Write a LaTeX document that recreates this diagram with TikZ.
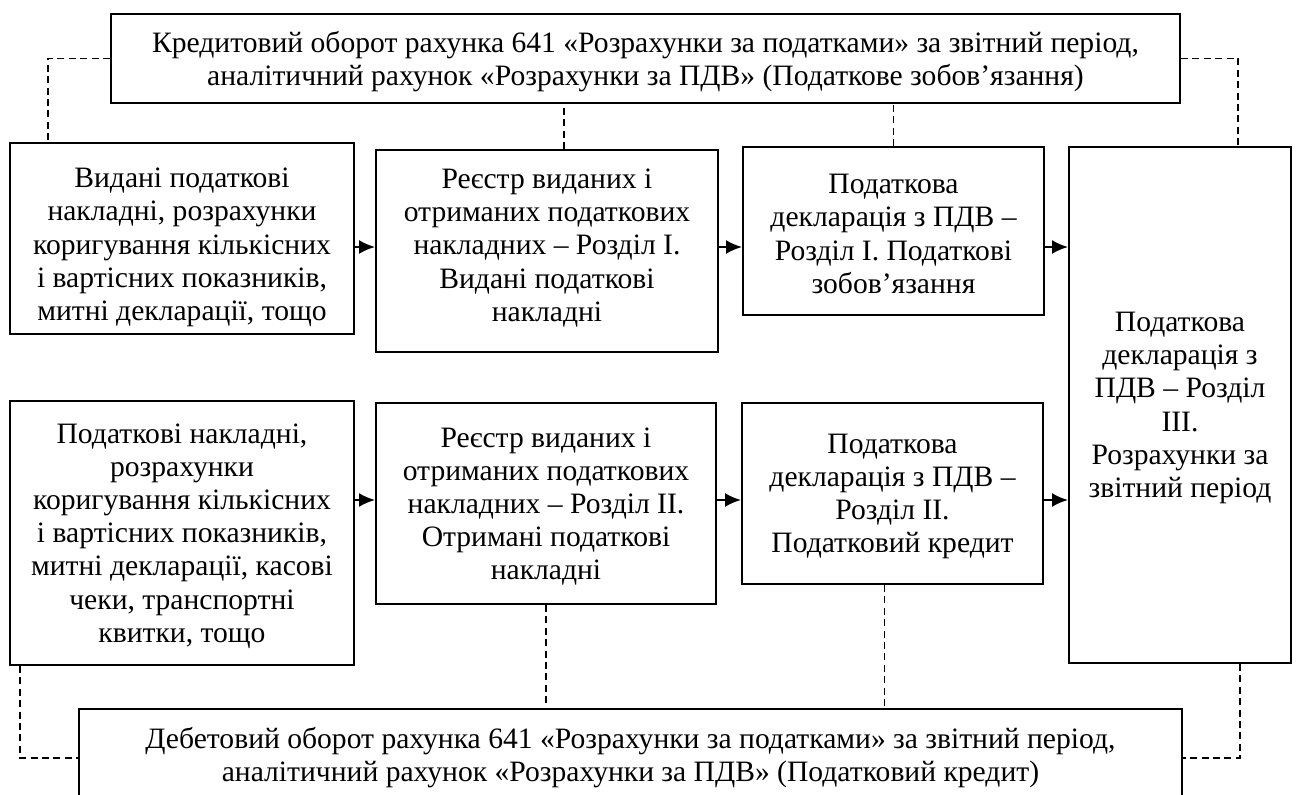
\documentclass[tikz,border=0pt]{standalone}
\usepackage{fontspec}
\setmainfont{Liberation Serif}
\usetikzlibrary{positioning,calc,arrows.meta}
\begin{document}
\begin{tikzpicture}[x=0.5pt,y=-0.5pt,
    blk/.style={draw,line width=1pt,inner sep=0pt},
    txt/.style={align=center,inner sep=0pt,yshift=-1.5pt,
      font=\fontsize{14.8}{16.6}\selectfont},
    arr/.style={line width=1pt,-{Latex[length=8pt,width=7pt]}},
    lnk/.style={line width=0.8pt,dash pattern=on 3.5pt off 2.2pt}]
  \clip (0,0) rectangle (1296,795);
  \fill[white] (0,0) rectangle (1296,795);
  \node[blk,minimum width=534.5pt,minimum height=44.5pt,
    label={[txt]center:{Кредитовий оборот рахунка 641 «Розрахунки за податками» за звітний період,\\
     аналітичний рахунок «Розрахунки за ПДВ» (Податкове зобов’язання)}}] (top) at (645.5,58.5) {};
  \node[blk,minimum width=172pt,minimum height=95.5pt,
    label={[txt,yshift=-3pt]center:{Видані податкові\\ накладні, розрахунки\\ коригування кількісних\\
     і вартісних показників,\\ митні декларації, тощо}}] (A) at (182,238.5) {};
  \node[blk,minimum width=171pt,minimum height=101pt,
    label={[txt,yshift=3pt]center:{Реєстр виданих і\\ отриманих податкових\\ накладних – Розділ I.\\
     Видані податкові\\ накладні}}] (B) at (547,251) {};
  \node[blk,minimum width=150.5pt,minimum height=84pt,
    label={[txt]center:{Податкова\\ декларація з ПДВ –\\ Розділ I. Податкові\\ зобов’язання}}] (C) at (893.5,231) {};
  \node[blk,minimum width=111pt,minimum height=258pt,
    label={[txt]center:{Податкова\\ декларація з\\ ПДВ – Розділ\\ III.\\ Розрахунки за\\ звітний період}}] (D) at (1180,405) {};
  \node[blk,minimum width=172pt,minimum height=132pt,
    label={[txt]center:{Податкові накладні,\\ розрахунки\\ коригування кількісних\\
     і вартісних показників,\\ митні декларації, касові\\ чеки, транспортні\\ квитки, тощо}}] (E) at (182,533) {};
  \node[blk,minimum width=170pt,minimum height=100.5pt,
    label={[txt]center:{Реєстр виданих і\\ отриманих податкових\\ накладних – Розділ II.\\
     Отримані податкові\\ накладні}}] (F) at (546,503.5) {};
  \node[blk,minimum width=150.5pt,minimum height=90.5pt,
    label={[txt]center:{Податкова\\ декларація з ПДВ –\\ Розділ II.\\ Податковий кредит}}] (G) at (892.5,493.5) {};
  \node[blk,minimum width=551.5pt,minimum height=48.5pt,
    label={[txt,yshift=1.5pt]center:{Дебетовий оборот рахунка 641 «Розрахунки за податками» за звітний період,\\
     аналітичний рахунок «Розрахунки за ПДВ» (Податковий кредит)}}] (bot) at (630.5,758) {};
  \foreach \a/\b in {A/B,B/C,C/D}
    \draw[arr] (\a.east |- 0,247) -- (\b.west |- 0,247);
  \foreach \a/\b in {E/F,F/G,G/D}
    \draw[arr] (\a.east |- 0,500) -- (\b.west |- 0,500);
  \coordinate (a1) at ($(A.north west)+(39,0)$);
  \draw[lnk] (top.west) -| (a1);
  \coordinate (b1) at ($(B.north)+(17,0)$);
  \draw[lnk] (b1) -- (b1 |- top.south);
  \draw[lnk] (C.north) -- (C.north |- top.south);
  \coordinate (d1) at ($(D.north)+(58,0)$);
  \draw[lnk] (top.east) -| (d1);
  \coordinate (e1) at ($(E.south west)+(11,0)$);
  \draw[lnk] (e1) |- (bot.west);
  \draw[lnk] (F.south) -- (F.south |- bot.north);
  \coordinate (g1) at ($(G.south)+(-8,0)$);
  \draw[lnk] (g1) -- (g1 |- bot.north);
  \coordinate (d2) at ($(D.south)+(60,0)$);
  \draw[lnk] (d2) |- (bot.east);
\end{tikzpicture}
\end{document}
